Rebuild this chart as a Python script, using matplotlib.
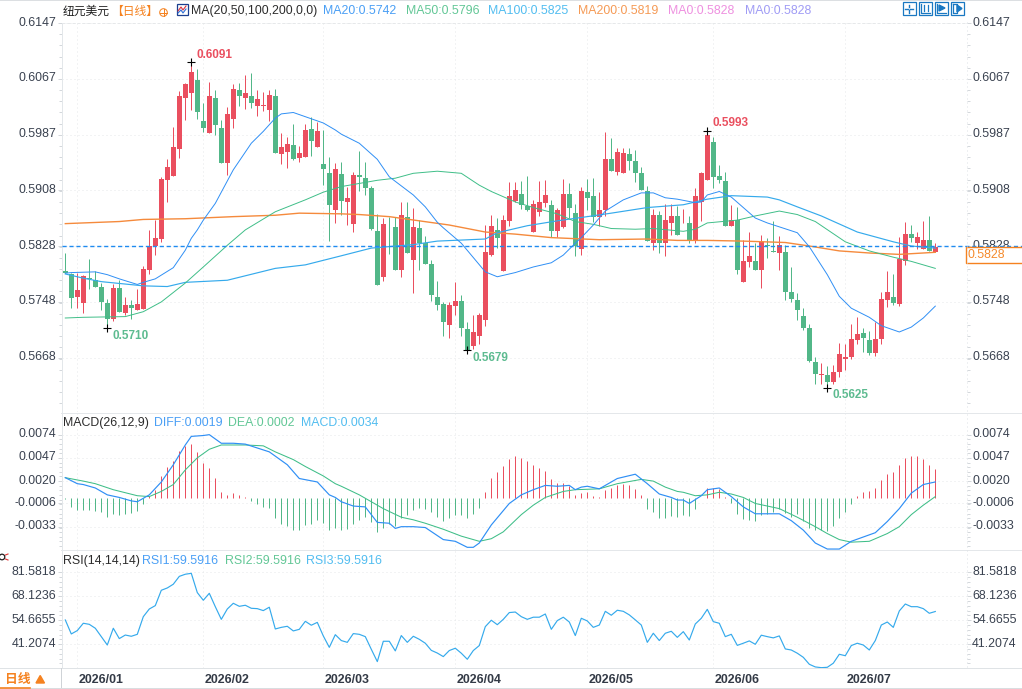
import numpy as np
import matplotlib
matplotlib.use('Agg')
import matplotlib.pyplot as plt
from matplotlib.patches import Rectangle, Circle
from matplotlib.transforms import ScaledTranslation

plt.rcParams['font.family'] = ['Liberation Sans', 'Noto Sans CJK SC', 'DejaVu Sans']

W, H = 1022, 689

# daily candles
opens = [0.5792,0.5788,0.5755,0.5747,0.5782,0.5780,0.5769,0.5746,0.5723,0.5768,
    0.5732,0.5743,0.5737,0.5738,0.5794,0.5828,0.5838,0.5922,0.5928,0.5967,
    0.6040,0.6047,0.6065,0.6007,0.5990,0.6040,0.5997,0.5947,0.6010,0.6051,
    0.6040,0.6043,0.6029,0.6029,0.6023,0.6043,0.5960,0.5963,0.5972,0.5954,
    0.5956,0.5995,0.5970,0.5945,0.5932,0.5879,0.5931,0.5891,0.5860,0.5930,
    0.5925,0.5911,0.5849,0.5784,0.5857,0.5855,0.5794,0.5869,0.5808,0.5854,
    0.5832,0.5802,0.5755,0.5745,0.5715,0.5742,0.5749,0.5709,0.5685,0.5699,
    0.5722,0.5815,0.5851,0.5792,0.5864,0.5892,0.5902,0.5885,0.5848,0.5877,
    0.5889,0.5887,0.5849,0.5855,0.5902,0.5875,0.5824,0.5905,0.5900,0.5869,
    0.5879,0.5952,0.5934,0.5932,0.5960,0.5950,0.5932,0.5907,0.5832,0.5872,
    0.5832,0.5861,0.5871,0.5869,0.5861,0.5835,0.5891,0.5922,0.5977,0.5928,
    0.5921,0.5857,0.5865,0.5777,0.5805,0.5807,0.5794,0.5829,0.5821,0.5818,
    0.5819,0.5762,0.5751,0.5728,0.5711,0.5662,0.5643,0.5643,0.5633,0.5648,
    0.5666,0.5669,0.5694,0.5704,0.5694,0.5675,0.5695,0.5751,0.5755,0.5745,
    0.5807,0.5845,0.5832,0.5824,0.5837,0.5819]
closes = [0.5790,0.5753,0.5765,0.5785,0.5781,0.5770,0.5748,0.5723,0.5768,0.5734,
    0.5743,0.5740,0.5745,0.5795,0.5828,0.5839,0.5924,0.5941,0.5970,0.6043,
    0.6060,0.6077,0.6020,0.5997,0.6043,0.6001,0.5947,0.6017,0.6053,0.6042,
    0.6047,0.6033,0.6038,0.6030,0.6044,0.5961,0.5970,0.5974,0.5952,0.5961,
    0.5994,0.5978,0.5992,0.5938,0.5887,0.5938,0.5892,0.5897,0.5930,0.5927,
    0.5911,0.5852,0.5772,0.5859,0.5856,0.5794,0.5872,0.5818,0.5855,0.5832,
    0.5802,0.5758,0.5744,0.5719,0.5744,0.5749,0.5711,0.5679,0.5705,0.5729,
    0.5819,0.5857,0.5839,0.5865,0.5900,0.5908,0.5887,0.5879,0.5888,0.5891,
    0.5901,0.5849,0.5879,0.5902,0.5882,0.5828,0.5907,0.5897,0.5869,0.5879,
    0.5952,0.5935,0.5962,0.5961,0.5950,0.5932,0.5908,0.5835,0.5872,0.5832,
    0.5865,0.5871,0.5844,0.5870,0.5835,0.5900,0.5932,0.5987,0.5927,0.5922,
    0.5857,0.5865,0.5794,0.5807,0.5814,0.5794,0.5834,0.5828,0.5819,0.5829,
    0.5762,0.5752,0.5736,0.5711,0.5664,0.5645,0.5645,0.5633,0.5648,0.5673,
    0.5669,0.5695,0.5702,0.5696,0.5675,0.5695,0.5752,0.5762,0.5746,0.5809,
    0.5845,0.5839,0.5841,0.5837,0.5821,0.5827]
highs = [0.5818,0.5790,0.5790,0.5786,0.5809,0.5792,0.5775,0.5752,0.5774,0.5779,
    0.5755,0.5751,0.5766,0.5800,0.5851,0.5865,0.5927,0.5952,0.5998,0.6050,
    0.6061,0.6091,0.6081,0.6032,0.6063,0.6051,0.6008,0.6027,0.6060,0.6061,
    0.6072,0.6075,0.6051,0.6048,0.6051,0.6053,0.5990,0.5984,0.6002,0.5971,
    0.6002,0.6012,0.6005,0.5994,0.5955,0.5947,0.5948,0.5913,0.5934,0.5964,
    0.5948,0.5914,0.5874,0.5868,0.5869,0.5869,0.5891,0.5891,0.5882,0.5865,
    0.5842,0.5808,0.5778,0.5748,0.5748,0.5777,0.5758,0.5719,0.5729,0.5732,
    0.5858,0.5872,0.5868,0.5872,0.5920,0.5920,0.5921,0.5928,0.5894,0.5921,
    0.5922,0.5894,0.5882,0.5924,0.5918,0.5888,0.5912,0.5924,0.5925,0.5905,
    0.5991,0.5982,0.5968,0.5968,0.5968,0.5965,0.5941,0.5914,0.5881,0.5878,
    0.5888,0.5888,0.5885,0.5881,0.5871,0.5911,0.5934,0.5993,0.5984,0.5944,
    0.5934,0.5887,0.5884,0.5837,0.5848,0.5832,0.5844,0.5839,0.5864,0.5842,
    0.5829,0.5798,0.5761,0.5739,0.5716,0.5669,0.5661,0.5656,0.5658,0.5689,
    0.5688,0.5716,0.5726,0.5711,0.5706,0.5719,0.5762,0.5792,0.5788,0.5841,
    0.5862,0.5858,0.5848,0.5864,0.5871,0.5832]
lows = [0.5789,0.5740,0.5740,0.5732,0.5767,0.5769,0.5736,0.5710,0.5721,0.5733,
    0.5729,0.5724,0.5737,0.5738,0.5788,0.5815,0.5834,0.5891,0.5928,0.5954,
    0.6008,0.6022,0.6010,0.5991,0.5990,0.5987,0.5947,0.5929,0.5997,0.6028,
    0.6024,0.6025,0.6014,0.6021,0.6007,0.5961,0.5946,0.5939,0.5951,0.5948,
    0.5956,0.5957,0.5970,0.5915,0.5835,0.5861,0.5873,0.5858,0.5848,0.5907,
    0.5901,0.5851,0.5772,0.5778,0.5817,0.5794,0.5784,0.5818,0.5761,0.5793,
    0.5802,0.5749,0.5736,0.5699,0.5696,0.5729,0.5699,0.5679,0.5681,0.5688,
    0.5714,0.5814,0.5825,0.5792,0.5857,0.5891,0.5881,0.5878,0.5848,0.5871,
    0.5884,0.5841,0.5841,0.5854,0.5868,0.5814,0.5815,0.5879,0.5862,0.5857,
    0.5871,0.5935,0.5930,0.5932,0.5937,0.5920,0.5908,0.5835,0.5822,0.5818,
    0.5814,0.5844,0.5844,0.5861,0.5832,0.5832,0.5864,0.5922,0.5911,0.5918,
    0.5857,0.5857,0.5788,0.5777,0.5798,0.5794,0.5768,0.5811,0.5819,0.5794,
    0.5751,0.5748,0.5722,0.5708,0.5662,0.5631,0.5631,0.5625,0.5631,0.5641,
    0.5651,0.5666,0.5688,0.5676,0.5672,0.5671,0.5688,0.5741,0.5744,0.5742,
    0.5801,0.5834,0.5824,0.5824,0.5821,0.5819]

# moving averages, read at the bars listed
ma20_bars = [0,1,5,7,9,12,13,15,18,20,21,22,23,25,28,31,33,35,36,38,40,43,45,46,49,52,54,58,60,62,63,66,70,72,75,78,81,83,85,86,88,90,93,96,98,100,102,105,106,107,109,111,115,117,122,124,127,129,131,134,136,139,141,143,145]
ma20 = [0.5789,0.5790,0.5791,0.5787,0.5781,0.5773,0.5776,0.5781,0.5797,0.5822,0.5839,0.5851,0.5865,0.5889,0.5937,0.5975,0.5992,0.6011,0.6017,0.6019,0.6013,0.6004,0.5994,0.5988,0.5975,0.5952,0.5927,0.5901,0.5884,0.5862,0.5854,0.5832,0.5791,0.5784,0.5790,0.5798,0.5804,0.5815,0.5832,0.5840,0.5858,0.5878,0.5894,0.5904,0.5904,0.5897,0.5895,0.5890,0.5891,0.5901,0.5906,0.5898,0.5868,0.5861,0.5847,0.5827,0.5787,0.5756,0.5739,0.5726,0.5714,0.5705,0.5712,0.5725,0.5742]
ma50_bars = [0,3,10,13,16,20,23,27,30,35,40,43,46,52,55,58,62,66,69,71,75,78,82,85,88,91,95,98,103,105,107,112,115,119,122,125,130,134,138,141,145]
ma50 = [0.5725,0.5726,0.5727,0.5734,0.5748,0.5775,0.5798,0.5829,0.5851,0.5877,0.5894,0.5905,0.5913,0.5922,0.5925,0.5932,0.5935,0.5932,0.5915,0.5906,0.5891,0.5883,0.5874,0.5863,0.5859,0.5853,0.5852,0.5853,0.5849,0.5852,0.5861,0.5865,0.5871,0.5878,0.5873,0.5863,0.5834,0.5821,0.5812,0.5806,0.5796]
ma100_bars = [0,3,6,13,17,20,27,35,40,46,51,58,62,70,72,77,82,87,91,97,103,105,107,111,117,119,122,126,132,138,141,145]
ma100 = [0.5788,0.5782,0.5777,0.5771,0.5770,0.5776,0.5779,0.5796,0.5801,0.5814,0.5825,0.5830,0.5835,0.5838,0.5847,0.5857,0.5864,0.5870,0.5875,0.5883,0.5887,0.5891,0.5895,0.5900,0.5898,0.5894,0.5884,0.5871,0.5848,0.5834,0.5828,0.5825]
ma200_bars = [0,3,9,13,20,28,35,39,46,49,54,59,64,70,75,81,89,97,102,107,113,120,124,129,134,139,145]
ma200 = [0.5860,0.5861,0.5863,0.5866,0.5867,0.5870,0.5872,0.5875,0.5874,0.5873,0.5870,0.5864,0.5858,0.5848,0.5845,0.5840,0.5837,0.5838,0.5836,0.5836,0.5835,0.5833,0.5828,0.5821,0.5818,0.5816,0.5819]

macd_hist = [-0.0001,-0.0010,-0.0014,-0.0014,-0.0014,-0.0015,-0.0016,-0.0022,-0.0018,-0.0019,
    -0.0018,-0.0017,-0.0015,-0.0007,0.0003,0.0010,0.0026,0.0036,0.0043,0.0055,
    0.0061,0.0063,0.0054,0.0041,0.0035,0.0024,0.0007,0.0004,0.0006,0.0004,
    0.0002,-0.0003,-0.0007,-0.0010,-0.0011,-0.0023,-0.0030,-0.0032,-0.0037,-0.0037,
    -0.0031,-0.0030,-0.0025,-0.0029,-0.0037,-0.0034,-0.0037,-0.0036,-0.0030,-0.0025,
    -0.0022,-0.0028,-0.0039,-0.0034,-0.0030,-0.0032,-0.0023,-0.0019,-0.0014,-0.0011,
    -0.0012,-0.0016,-0.0022,-0.0026,-0.0023,-0.0019,-0.0019,-0.0023,-0.0018,-0.0011,
    0.0007,0.0024,0.0031,0.0038,0.0046,0.0049,0.0047,0.0043,0.0039,0.0035,
    0.0032,0.0022,0.0018,0.0018,0.0014,0.0004,0.0006,0.0007,0.0003,0.0002,
    0.0010,0.0012,0.0016,0.0017,0.0016,0.0011,0.0004,-0.0012,-0.0016,-0.0023,
    -0.0023,-0.0021,-0.0022,-0.0019,-0.0021,-0.0012,0.0000,0.0012,0.0012,0.0011,
    0.0001,-0.0005,-0.0018,-0.0024,-0.0025,-0.0026,-0.0019,-0.0018,-0.0016,-0.0012,
    -0.0017,-0.0022,-0.0018,-0.0026,-0.0034,-0.0037,-0.0037,-0.0038,-0.0032,-0.0023,
    -0.0016,-0.0007,0.0003,0.0007,0.0009,0.0012,0.0021,0.0028,0.0031,0.0039,
    0.0047,0.0049,0.0049,0.0046,0.0039,0.0034]
diff_bars = [0,2,3,5,7,9,11,12,14,16,18,20,21,23,24,26,28,30,34,37,39,42,44,45,46,48,50,52,54,55,56,58,60,63,65,67,68,69,71,74,76,78,80,82,84,85,86,87,89,92,95,97,99,101,102,103,104,106,107,109,111,113,115,119,121,123,125,127,129,131,133,135,137,139,141,143,145]
diff_line = [0.0024,0.0017,0.0016,0.0012,0.0004,0.0001,-0.0003,-0.0004,0.0004,0.0019,0.0039,0.0062,0.0072,0.0073,0.0074,0.0064,0.0064,0.0063,0.0054,0.0039,0.0023,0.0019,0.0004,0.0001,-0.0004,-0.0009,-0.0010,-0.0028,-0.0029,-0.0035,-0.0033,-0.0033,-0.0034,-0.0048,-0.0050,-0.0057,-0.0057,-0.0052,-0.0031,-0.0006,0.0004,0.0010,0.0015,0.0014,0.0015,0.0010,0.0013,0.0014,0.0011,0.0023,0.0028,0.0017,0.0005,0.0001,-0.0002,-0.0002,-0.0006,0.0003,0.0010,0.0012,0.0002,-0.0010,-0.0018,-0.0018,-0.0026,-0.0037,-0.0052,-0.0059,-0.0059,-0.0050,-0.0045,-0.0040,-0.0027,-0.0012,0.0006,0.0016,0.0019]
dea_bars = [0,3,5,8,12,14,16,18,20,22,24,26,30,33,35,38,40,43,45,46,49,51,53,56,58,60,63,66,69,71,73,76,78,80,83,85,89,92,96,98,100,102,103,105,107,109,111,113,115,119,122,125,127,129,131,134,137,139,141,143,145]
dea_line = [0.0024,0.0020,0.0017,0.0010,0.0003,0.0002,0.0008,0.0016,0.0033,0.0047,0.0057,0.0062,0.0062,0.0061,0.0054,0.0045,0.0037,0.0026,0.0017,0.0014,0.0004,-0.0004,-0.0012,-0.0022,-0.0025,-0.0029,-0.0036,-0.0044,-0.0050,-0.0047,-0.0039,-0.0019,-0.0008,0.0001,0.0008,0.0010,0.0011,0.0017,0.0022,0.0020,0.0013,0.0008,0.0007,0.0003,0.0004,0.0007,0.0005,0.0001,-0.0006,-0.0012,-0.0022,-0.0033,-0.0041,-0.0048,-0.0051,-0.0050,-0.0041,-0.0033,-0.0019,-0.0008,0.0002]

rsi = [54.85,47.0,48.9,53.0,52.4,50.2,45.5,40.8,50.2,44.4,46.4,45.7,46.8,56.7,61.0,62.9,71.5,72.8,74.9,79.3,
    80.5,81.0,70.2,65.9,69.8,62.3,55.2,61.0,64.2,62.5,63.1,61.4,61.2,60.1,62.0,49.8,50.7,51.3,48.7,49.6,
    54.1,51.9,53.5,45.9,39.5,46.6,43.3,42.3,47.2,46.8,45.5,38.4,31.5,42.9,42.9,37.5,46.1,42.3,45.7,44.0,
    41.8,37.8,36.3,34.3,37.7,39.0,36.2,32.8,37.7,40.5,51.1,54.7,52.2,55.2,59.0,59.3,56.7,55.2,56.4,56.4,
    58.2,49.6,54.5,56.4,53.7,46.1,55.8,54.3,50.7,52.0,59.7,57.5,60.3,59.7,57.7,54.9,52.0,42.3,47.4,43.3,
    47.4,48.5,45.1,48.3,43.6,52.6,55.8,60.8,53.9,53.0,45.5,46.8,40.6,41.8,43.1,41.2,46.3,45.5,44.8,45.9,
    38.6,38.0,36.2,33.9,30.0,28.5,28.1,28.3,30.6,35.6,34.8,40.5,41.8,40.8,38.0,43.3,52.0,53.7,50.7,59.9,
    63.8,62.3,62.3,61.2,58.6,59.59]

month_bars = [2, 23, 43, 65, 87, 108, 130]
month_labels = ['2026/01', '2026/02', '2026/03', '2026/04', '2026/05', '2026/06', '2026/07']

price_ticks = [0.6147, 0.6067, 0.5987, 0.5908, 0.5828, 0.5748, 0.5668]
macd_ticks = [0.0074, 0.0047, 0.0020, -0.0006, -0.0033]
rsi_ticks = [81.5818, 68.1236, 54.6655, 41.2074]

# (bar, value, y offset in px, is high)
extremes = [(21, 0.6091, 7, True), (107, 0.5993, 8, True),
            (7, 0.5710, -7.5, False), (67, 0.5679, -7.5, False), (127, 0.5625, -7, False)]

RED = '#ea4f5f'
GREEN = '#52b788'
BLUE = '#2f8ff5'
SKY = '#35aaec'
ORANGE = '#f58a3c'
TEAL = '#3fbe88'
GRID = '#e6e8ea'
AXIS = '#e3e7ea'
TEXT = '#3a4250'
PX = 0.72  # one pixel in points at dpi 100
FS = 8.9


def pane(top, bottom, ylim):
    ax = fig.add_axes([61.5 / W, 1 - bottom / H, 905 / W, (bottom - top) / H])
    ax.set_xlim((61.5 - 65.3) / 6, (966.5 - 65.3) / 6)
    ax.set_ylim(*ylim)
    for s in ['top', 'bottom', 'right']:
        ax.spines[s].set_visible(False)
    ax.spines['left'].set_color(AXIS)
    ax.spines['left'].set_linewidth(PX)
    ax.set_xticks(month_bars)
    ax.grid(True, which='major', color=GRID, linestyle=(0, (1, 3)), linewidth=PX)
    ax.set_axisbelow(True)
    ax.tick_params(axis='x', length=0, labelbottom=False)
    return ax


def yticks(ax, ticks, labels, step):
    ax.set_yticks(ticks)
    ax.set_yticklabels(labels)
    low, high = ax.get_ylim()
    minor = np.arange(ticks[0], low, -step)
    ax.set_yticks(minor[(minor < high)], minor=True)
    ax.tick_params(axis='y', which='major', left=True, right=True, labelleft=True, labelright=True,
                   length=3, width=PX, color='#d4d8dc', labelsize=FS, labelcolor=TEXT, pad=1)
    ax.tick_params(axis='y', which='minor', left=True, right=True, length=2, width=PX, color='#d4d8dc')
    # labels sit a little above their gridline
    up = ScaledTranslation(0, 2 / 100, fig.dpi_scale_trans)
    for tick in ax.yaxis.get_major_ticks():
        tick.label1.set_transform(tick.label1.get_transform() + up)
        tick.label2.set_transform(tick.label2.get_transform() + up)


fig = plt.figure(figsize=(W / 100, H / 100), dpi=100, facecolor='white')

# price pane with candles and moving averages
ax = pane(22.5, 412, (0.5828 - (412 - 246) / 6990, 0.5828 + (246 - 22.5) / 6990))
yticks(ax, price_ticks, ['%.4f' % t for t in price_ticks], 0.0016)
bars = np.arange(len(opens))
o, c, hi, lo = map(np.array, (opens, closes, highs, lows))
colors = [RED if cc >= oo else GREEN for oo, cc in zip(o, c)]
ax.vlines(bars, lo, hi, colors=colors, linewidth=PX, zorder=2)
ax.bar(bars, np.maximum(np.abs(c - o), 0.00012), bottom=np.minimum(o, c), width=0.86, color=colors,
       linewidth=0, zorder=3)
ax.plot(ma200_bars, ma200, color=ORANGE, lw=1.0, zorder=4)
ax.plot(ma100_bars, ma100, color=SKY, lw=0.85, zorder=4)
ax.plot(ma50_bars, ma50, color=TEAL, lw=0.7, zorder=4)
ax.plot(ma20_bars, ma20, color=BLUE, lw=0.7, zorder=4)
ax.plot([0, 1.0625], [0.5828, 0.5828], transform=ax.get_yaxis_transform(), clip_on=False,
        color='#1f8bf0', lw=1.0, linestyle=(0, (3, 2)), zorder=5)
for bar, value, dy, is_high in extremes:
    ax.plot(bar, value, marker='+', color='black', ms=5.5, mew=0.8, zorder=6)
    ax.annotate('%.4f' % value, (bar, value), xytext=(5 * PX, dy * PX), textcoords='offset points',
                color=RED if is_high else '#5dbb90', fontsize=8.5, fontweight='bold',
                ha='left', va='center', zorder=6)

# MACD pane
ax2 = pane(413, 550, (-(550 - 498.3) / 8600, (498.3 - 413) / 8600))
yticks(ax2, macd_ticks, ['0.0074', '0.0047', '0.0020', '-0.0006', '-0.0033'], 0.00054)
hist = np.array(macd_hist)
ax2.vlines(bars, 0, hist, colors=[RED if v >= 0 else GREEN for v in hist], linewidth=PX, zorder=2)
ax2.plot(dea_bars, dea_line, color=TEAL, lw=0.75, zorder=3)
ax2.plot(diff_bars, diff_line, color=BLUE, lw=0.85, zorder=4)

# RSI pane and the date axis
ax3 = pane(550.5, 668, (81.5818 - (668 - 572.3) / 1.783, 81.5818 + (572.3 - 550.5) / 1.783))
yticks(ax3, rsi_ticks, ['%.4f' % t for t in rsi_ticks], 2.6916)
ax3.plot(bars, rsi, color=SKY, lw=0.85)
ax3.set_xticklabels(month_labels)
ax3.tick_params(axis='x', bottom=False, labelbottom=True, labelsize=FS, labelcolor='#333a46', pad=4.5)
nudge = ScaledTranslation(1.5 / 100, 0, fig.dpi_scale_trans)
for tick in ax3.xaxis.get_major_ticks():
    tick.label1.set_ha('left')
    tick.label1.set_fontweight('bold')
    tick.label1.set_transform(tick.label1.get_transform() + nudge)

# chrome drawn in pixel space
ov = fig.add_axes([0, 0, 1, 1], facecolor='none', zorder=20)
ov.set_xlim(0, W)
ov.set_ylim(H, 0)
ov.axis('off')
for yy, col in [(412.8, '#e4e7ea'), (550.2, '#e4e7ea'), (668.2, '#dfe3e6'), (687.5, '#d9dde0')]:
    ov.plot([0 if yy > 600 else 61, W], [yy, yy], color=col, lw=PX)
ov.plot([0, W], [0.3, 0.3], color='#dcdfe2', lw=PX)
ov.plot([60.5, 60.5], [668, 687], color='#cfd3d7', lw=PX)
ov.plot([0, 30], [687.6, 687.6], color='#f58220', lw=1.2)
ov.plot([966.5, 966.5], [22, 668], color='#dfe3e6', lw=PX, linestyle=(0, (1, 3)))
ov.plot([61.5, 966.5], [22.5, 22.5], color='#e6e8ea', lw=PX, linestyle=(0, (3, 2)))


def label(x, y, s, color, size=FS, **kw):
    ov.text(x, y, s, color=color, fontsize=size, ha='left', va='center', **kw)


label(63, 11, '纽元美元', '#222222', 8.5, family=['Noto Sans CJK SC', 'DejaVu Sans'])
label(111, 11, '【日线】', '#f58220', 8.5, family=['Noto Sans CJK SC', 'DejaVu Sans'])
ov.add_patch(Circle((163.5, 12.5), 3.8, fill=False, ec='#f58220', lw=PX))
ov.plot([159.7, 167.3], [12.5, 12.5], color='#f58220', lw=PX)
ov.plot([163.5, 163.5], [8.7, 16.3], color='#f58220', lw=PX)
ov.add_patch(Rectangle((176.5, 3.5), 11, 11, fill=False, ec='#1b3f8f', lw=0.9))
ov.plot([178, 181, 183, 186], [11, 7, 10, 6], color='#d8333f', lw=0.8)
ov.plot([178, 181, 183, 186], [13, 10, 13, 9], color='#2f6fd5', lw=0.8)

label(191, 11, 'MA(20,50,100,200,0,0)', '#2c2c2c')
for x, s, col in [(323, 'MA20:0.5742', '#4a9ff5'), (406, 'MA50:0.5796', '#62c796'),
                  (488, 'MA100:0.5825', '#52bdf0'), (578, 'MA200:0.5819', '#f59a55'),
                  (668, 'MA0:0.5828', '#ee90e0'), (745, 'MA0:0.5828', '#a09cf5')]:
    label(x, 11, s, col)

label(63, 423, 'MACD(26,12,9)', '#2c2c2c')
for x, s, col in [(154, 'DIFF:0.0019', '#4a9ff5'), (228, 'DEA:0.0002', '#62c796'),
                  (301, 'MACD:0.0034', '#52bdf0')]:
    label(x, 423, s, col)

label(63, 561, 'RSI(14,14,14)', '#2c2c2c')
for x, s, col in [(142, 'RSI1:59.5916', '#4a9ff5'), (225, 'RSI2:59.5916', '#62c796'),
                  (306, 'RSI3:59.5916', '#52bdf0')]:
    label(x, 561, s, col)

# last price flag over the right axis
ov.add_patch(Rectangle((966, 246.7), 57, 16.5, fc='white', ec='#f58220', lw=1.0))
label(968, 255, '0.5828', '#f58a2c')

# toolbar buttons
for x0 in [902.5, 918.5, 934.5, 950.5]:
    ov.add_patch(Rectangle((x0, 2), 13, 13, fc='white', ec='#1a78c2', lw=0.9))
ov.plot([905, 908], [8.5, 8.5], color='#1a78c2', lw=1.0)
ov.plot([910, 913], [8.5, 8.5], color='#1a78c2', lw=1.0)
ov.plot([909, 909], [4.5, 7], color='#1a78c2', lw=1.0)
ov.plot([909, 909], [10, 12.5], color='#1a78c2', lw=1.0)
ov.plot([921, 921, 930], [4, 13, 13], color='#1a78c2', lw=0.9)
ov.plot([924, 924], [5, 11], color='#1a78c2', lw=0.9)
ov.plot([928, 928], [5, 11], color='#1a78c2', lw=0.9)
ov.plot([937, 937, 946], [4, 13, 13], color='#1a78c2', lw=0.9)
ov.fill([939, 939, 945], [5, 11, 8], color='#1a78c2')
ov.plot([953, 953, 957, 957, 953], [4, 13, 13, 4, 4], color='#1a78c2', lw=0.9)
ov.fill([957, 957, 962], [5, 12, 8.5], color='#1a78c2')

# bottom left period switch
label(5, 679, '日线', '#f58220', 9.2, family=['Noto Sans CJK SC', 'DejaVu Sans'], fontweight='bold')
ov.fill([36, 44.5, 40.2], [683, 683, 675.5], color='#f58220')
# small crosshair marker beside the RSI title
ov.add_patch(Circle((2, 557), 2.8, fill=False, ec='#222222', lw=0.9))
ov.plot([5.5, 8], [555, 554], color='#e03030', lw=0.8)
ov.plot([5.5, 8], [559, 560], color='#e03030', lw=0.8)

fig.savefig('out.png', dpi=100)
